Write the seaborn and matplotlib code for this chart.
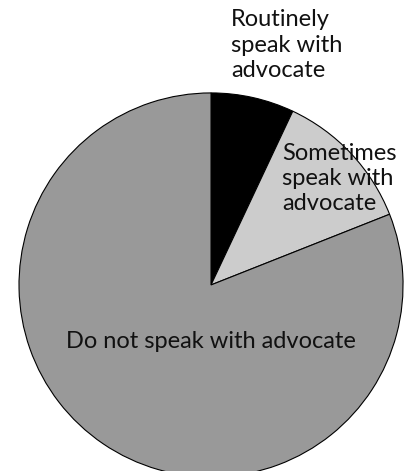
import matplotlib
matplotlib.use('Agg')
import matplotlib.pyplot as plt
import seaborn as sns

# Data
categories = ['Routinely\nspeak with\nadvocate', 'Sometimes\nspeak with\nadvocate', 'Do not speak with advocate']
shares = [7, 12, 81]
slice_colors = ['#000000', '#cccccc', '#999999']

sns.set_theme(style='white')
plt.rcParams['font.family'] = ['Lato', 'DejaVu Sans']

fig = plt.figure(figsize=(4.09, 4.71), dpi=100)
ax = fig.add_axes([0, 0, 1, 1])

ax.pie(shares, colors=slice_colors, startangle=90, counterclock=False,
       radius=1, wedgeprops={'edgecolor': 'black', 'linewidth': 0.8})

# place the view so the pie sits like the original (radius ~192 px)
ax.set_xlim(-1.099, 1.031)
ax.set_ylim(-0.969, 1.484)
ax.set_aspect('auto')
ax.axis('off')

fs = 17
ax.text(0.104, 1.435, categories[0], ha='left', va='top', fontsize=fs, color='#111111', linespacing=1.25)
ax.text(0.370, 0.74, categories[1], ha='left', va='top', fontsize=fs, color='#111111', linespacing=1.25)
ax.text(0.0, -0.297, categories[2], ha='center', va='center', fontsize=fs, color='#111111')

fig.savefig('out.png', dpi=100)
